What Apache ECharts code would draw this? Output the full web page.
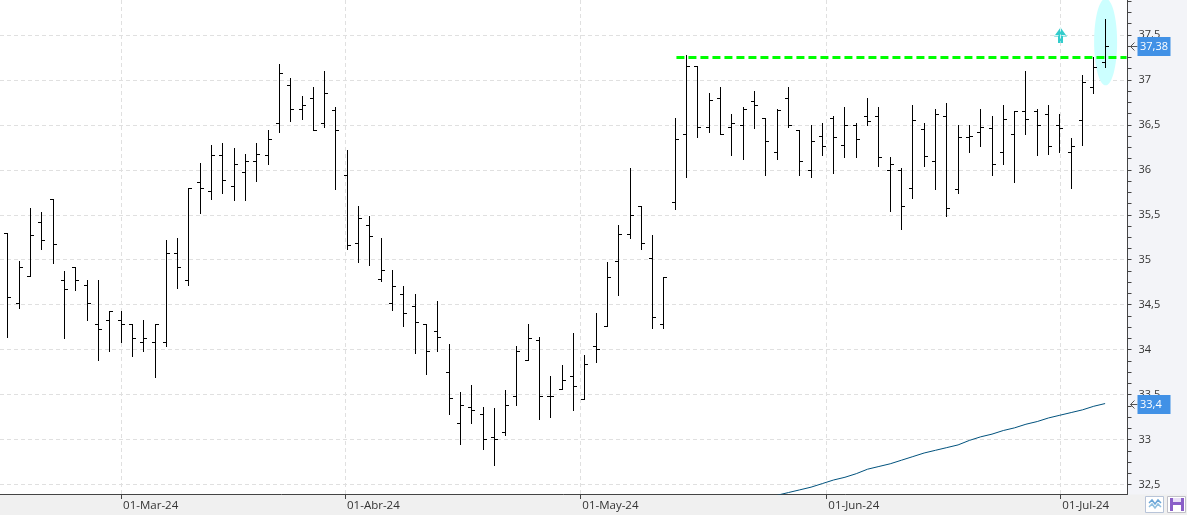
<!DOCTYPE html>
<html>
<head>
<meta charset="utf-8">
<style>
  html, body { margin: 0; padding: 0; background: #f3f4f8; }
  #chart { width: 1187px; height: 515px; }
</style>
<script src="https://cdn.jsdelivr.net/npm/echarts@6/dist/echarts.min.js"></script>
</head>
<body>
<div id="chart"></div>
<script>
// daily bars, index = trading session
const opens = [
  35.30, 34.52, 34.82, 35.42, 35.67, 34.77, 34.92, 34.72, 34.29, 34.33,
  34.33, 34.29, 34.09, 34.09, 34.09, 35.07, 34.77, 35.87, 35.76, 36.17,
  35.82, 35.98, 36.10, 36.17, 36.52, 36.94, 36.68, 36.80, 36.52, 36.66,
  35.94, 35.19, 35.39, 34.79, 34.52, 34.62, 34.49, 34.29, 34.21, 33.75,
  33.18, 33.36, 33.28, 33.03, 33.08, 33.48, 33.89, 34.11, 33.48, 33.56,
  33.71, 33.45, 34.04, 34.26, 34.99, 35.29, 35.60, 35.02, 34.29, 35.64,
  36.40, 37.15, 36.48, 36.80, 36.48, 36.50, 36.76, 36.58, 36.20, 36.80,
  36.44, 36.00, 36.38, 36.58, 36.28, 36.50, 36.60, 36.60, 36.00, 36.00,
  35.80, 36.45, 36.10, 36.60, 35.79, 36.37, 36.42, 36.47, 36.20, 36.40,
  36.65, 36.65, 36.62, 36.50, 36.20, 36.55, 36.92, 37.20
];
const highs = [
  35.30, 34.99, 35.57, 35.53, 35.67, 34.87, 34.92, 34.77, 34.77, 34.43,
  34.43, 34.29, 34.33, 34.29, 35.22, 35.24, 35.80, 36.08, 36.28, 36.30,
  36.24, 36.18, 36.30, 36.44, 37.18, 37.02, 36.82, 36.92, 37.10, 36.70,
  36.22, 35.60, 35.49, 35.24, 34.89, 34.71, 34.62, 34.29, 34.54, 34.06,
  33.53, 33.61, 33.36, 33.35, 33.55, 34.04, 34.29, 34.14, 33.71, 33.83,
  34.19, 33.94, 34.41, 34.97, 35.39, 36.02, 35.60, 35.27, 34.81, 36.58,
  37.28, 37.16, 36.86, 36.92, 36.62, 36.70, 36.88, 36.58, 36.68, 36.92,
  36.44, 36.50, 36.52, 36.60, 36.70, 36.52, 36.80, 36.70, 36.14, 36.02,
  36.72, 36.52, 36.68, 36.74, 36.50, 36.50, 36.68, 36.60, 36.72, 36.65,
  37.10, 36.68, 36.72, 36.62, 36.35, 37.06, 37.26, 37.68
];
const lows = [
  34.14, 34.46, 34.82, 35.12, 34.96, 34.13, 34.66, 34.33, 33.89, 33.99,
  34.09, 33.93, 33.99, 33.69, 34.04, 34.69, 34.72, 35.52, 35.68, 35.74,
  35.66, 35.66, 35.88, 36.07, 36.42, 36.54, 36.57, 36.44, 36.48, 35.79,
  35.12, 34.98, 34.94, 34.76, 34.44, 34.26, 33.96, 33.73, 33.98, 33.28,
  32.95, 33.18, 32.90, 32.72, 33.05, 33.38, 33.89, 33.23, 33.25, 33.56,
  33.33, 33.45, 33.86, 34.26, 34.61, 35.24, 35.12, 34.24, 34.24, 35.56,
  35.92, 36.37, 36.42, 36.40, 36.16, 36.12, 36.46, 35.94, 36.12, 36.48,
  35.94, 35.92, 36.16, 35.96, 36.14, 36.14, 36.50, 36.04, 35.54, 35.34,
  35.69, 36.04, 35.79, 35.49, 35.74, 36.20, 36.26, 35.94, 36.06, 35.87,
  36.40, 36.16, 36.18, 36.20, 35.80, 36.28, 36.85, 37.14
];
const closes = [
  34.59, 34.92, 35.27, 35.22, 35.17, 34.67, 34.77, 34.52, 34.23, 34.43,
  34.29, 34.13, 34.13, 34.29, 35.07, 34.92, 35.80, 35.80, 36.17, 35.89,
  36.07, 36.10, 36.18, 36.34, 37.08, 36.68, 36.72, 36.44, 36.86, 36.44,
  35.16, 35.46, 35.26, 34.89, 34.71, 34.41, 34.31, 33.99, 34.14, 33.46,
  33.38, 33.33, 33.01, 33.01, 33.38, 33.99, 34.13, 33.48, 33.48, 33.66,
  33.59, 33.84, 34.01, 34.81, 35.29, 35.50, 35.19, 34.36, 34.81, 36.34,
  37.16, 36.48, 36.78, 36.40, 36.52, 36.68, 36.72, 36.32, 36.66, 36.50,
  36.10, 36.32, 36.27, 36.37, 36.50, 36.34, 36.54, 36.14, 36.07, 35.60,
  36.55, 36.15, 36.62, 35.57, 36.37, 36.38, 36.48, 36.07, 36.57, 36.65,
  36.57, 36.50, 36.27, 36.47, 36.27, 36.98, 37.14, 37.38
];

// long moving average, first point is session 68
const maStart = 68;
const maValues = [
  32.38, 32.41, 32.44, 32.47, 32.51, 32.55, 32.58, 32.62, 32.67, 32.70,
  32.73, 32.77, 32.81, 32.85, 32.88, 32.91, 32.94, 32.99, 33.03, 33.06,
  33.10, 33.13, 33.17, 33.20, 33.24, 33.27, 33.30, 33.33, 33.37, 33.40
];

const monthTicks = [10, 29.8, 50.6, 72.35, 93.04];
const monthLabels = ['01-Mar-24', '01-Abr-24', '01-May-24', '01-Jun-24', '01-Jul-24'];
const priceTicks = [32.5, 33, 33.5, 34, 34.5, 35, 35.5, 36, 36.5, 37, 37.5];
const minorTicks = [];
for (let v = 32.5; v <= 37.875; v += 0.125) minorTicks.push(v);

const resistance = { from: 59.1, to: 98.9, value: 37.25 };
const signal = { x: 93, y: 37.5 };
const lastPrice = closes[closes.length - 1];
const lastMa = maValues[maValues.length - 1];

const chart = echarts.init(document.getElementById('chart'), null, { renderer: 'canvas' });

const priceFormat = v => String(v).replace('.', ',');
const font = '"Open Sans", "Noto Sans", sans-serif';

const renderBar = (params, api) => {
  const x = Math.floor(api.coord([api.value(0), 0])[0]) + 0.5;
  const y = i => Math.round(api.coord([0, api.value(i)])[1]) + 0.5;
  const style = { stroke: '#000', lineWidth: 1, fill: null };
  return {
    type: 'group',
    children: [
      { type: 'line', shape: { x1: x, y1: y(2) - 0.5, x2: x, y2: y(3) + 0.5 }, style },
      { type: 'line', shape: { x1: x - 3.5, y1: y(1), x2: x, y2: y(1) }, style },
      { type: 'line', shape: { x1: x, y1: y(4), x2: x + 3.5, y2: y(4) }, style }
    ]
  };
};

const renderArrow = (params, api) => {
  const c = api.coord([api.value(0), api.value(1)]);
  const x = Math.round(c[0]) + 0.5;
  const y = Math.round(c[1]) + 0.5;
  const faint = { stroke: '#d4f4f4', lineWidth: 1, lineDash: [4, 3], fill: null };
  return {
    type: 'group',
    children: [
      {
        type: 'polygon',
        shape: { points: [[x, y - 8], [x + 6.5, y + 1], [x + 2.5, y + 1], [x + 2.5, y + 7.5], [x - 2.5, y + 7.5], [x - 2.5, y + 1], [x - 6.5, y + 1]] },
        style: { fill: '#33cccc' }
      },
      { type: 'line', shape: { x1: x, y1: y - 8, x2: x, y2: y + 7 }, style: faint },
      { type: 'line', shape: { x1: x - 6, y1: y, x2: x + 6, y2: y }, style: faint }
    ]
  };
};

chart.setOption({
  animation: false,
  backgroundColor: 'transparent',
  grid: {
    show: true,
    left: 0,
    right: 59.5,
    top: 0,
    height: 494,
    backgroundColor: '#fff',
    borderWidth: 0,
    containLabel: false
  },
  xAxis: {
    type: 'value',
    min: -0.707,
    max: 98.98,
    axisLine: { show: true, onZero: false, lineStyle: { color: '#444', width: 1 } },
    axisTick: { show: true, customValues: monthTicks, length: 5, inside: false, lineStyle: { color: '#444' } },
    axisLabel: {
      show: true,
      customValues: monthTicks,
      formatter: v => monthLabels[monthTicks.indexOf(v)] || '',
      color: '#333',
      fontFamily: font,
      fontSize: 11.5,
      align: 'left',
      margin: 6,
      padding: [0, 0, 0, 2],
      showMinLabel: true,
      showMaxLabel: true,
      hideOverlap: false
    },
    splitLine: { show: true, lineStyle: { color: '#e0e0e0', type: [4, 3], width: 1 } }
  },
  yAxis: [
    {
      type: 'value',
      position: 'right',
      min: 32.394,
      max: 37.889,
      axisLine: { show: true, onZero: false, lineStyle: { color: '#444', width: 1 } },
      axisTick: { show: true, customValues: minorTicks, length: 4, lineStyle: { color: '#444' } },
      axisLabel: {
        show: true,
        customValues: priceTicks,
        formatter: priceFormat,
        color: '#333',
        fontFamily: font,
        fontSize: 11,
        margin: 11,
        padding: [4, 0, 0, 0],
        showMinLabel: true,
        showMaxLabel: true
      },
      splitLine: { show: false }
    },
    {
      // second axis only for the horizontal grid lines at the labelled prices
      type: 'value',
      position: 'left',
      min: 32.394,
      max: 37.889,
      axisLine: { show: false },
      axisTick: { show: false, customValues: priceTicks },
      axisLabel: { show: false },
      splitLine: { show: true, lineStyle: { color: '#e0e0e0', type: [4, 3], width: 1 } }
    }
  ],
  series: [
    {
      // highlight ellipse behind the last bar
      type: 'custom',
      z: 1,
      silent: true,
      clip: false,
      data: [[97, 37.905, 36.94]],
      renderItem: (params, api) => {
        const top = api.coord([api.value(0), api.value(1)]);
        const bottom = api.coord([api.value(0), api.value(2)]);
        return {
          type: 'ellipse',
          shape: { cx: top[0] + 0.5, cy: (top[1] + bottom[1]) / 2, rx: 11.5, ry: (bottom[1] - top[1]) / 2 },
          style: { fill: '#ccffff' }
        };
      }
    },
    {
      type: 'custom',
      z: 3,
      silent: true,
      encode: { x: 0, y: [1, 2, 3, 4] },
      data: opens.map((o, i) => [i, o, highs[i], lows[i], closes[i]]),
      renderItem: renderBar
    },
    {
      type: 'line',
      z: 3,
      silent: true,
      showSymbol: false,
      lineStyle: { color: '#00527d', width: 1 },
      data: maValues.map((v, i) => [maStart + i, v])
    },
    {
      // resistance level
      type: 'line',
      z: 4,
      silent: true,
      showSymbol: false,
      lineStyle: { color: '#00ff00', width: 3, type: [8, 4] },
      data: [[resistance.from, resistance.value], [resistance.to, resistance.value]]
    },
    {
      // buy signal arrow
      type: 'custom',
      z: 4,
      silent: true,
      data: [[signal.x, signal.y]],
      renderItem: renderArrow
    },
    {
      // last value tags on the price axis
      type: 'custom',
      z: 6,
      silent: true,
      clip: false,
      data: [[lastPrice], [lastMa]],
      renderItem: (params, api) => {
        const y = Math.round(api.coord([0, api.value(0)])[1]);
        const axisX = params.coordSys.x + params.coordSys.width;
        return {
          type: 'group',
          children: [
            { type: 'polyline', shape: { points: [[axisX + 7, y - 3.5], [axisX + 3, y + 0.5], [axisX + 7, y + 4.5]] }, style: { stroke: '#555', fill: null, lineWidth: 1 } },
            { type: 'line', shape: { x1: axisX + 3, y1: y + 0.5, x2: axisX + 10, y2: y + 0.5 }, style: { stroke: '#555', lineWidth: 1 } },
            { type: 'rect', shape: { x: axisX + 10, y: y - 9, width: 33, height: 19 }, style: { fill: '#4191e6' } },
            { type: 'text', x: axisX + 12.5, y: y + 1, style: { text: priceFormat(api.value(0)), fill: '#fff', font: '11px ' + font, verticalAlign: 'middle' } }
          ]
        };
      }
    }
  ],
  graphic: [
    // bottom strip
    { type: 'rect', z: -1, shape: { x: 0, y: 494.5, width: 1187, height: 21 }, style: { fill: '#f0f0f0' } },
    // toolbar buttons
    {
      type: 'group',
      z: 10,
      children: [
        { type: 'rect', shape: { x: 1145.5, y: 496.5, width: 18, height: 16 }, style: { fill: '#fff', stroke: '#b8c4d8' } },
        { type: 'polyline', shape: { points: [[1149, 503], [1152, 500], [1155, 504], [1158, 500], [1161, 503]] }, style: { stroke: '#6aa6d8', fill: null, lineWidth: 1.5 } },
        { type: 'polyline', shape: { points: [[1149, 507], [1152, 504], [1155, 508], [1158, 504], [1161, 507]] }, style: { stroke: '#8fbfe0', fill: null, lineWidth: 1.5 } },
        { type: 'rect', shape: { x: 1167.5, y: 496.5, width: 18, height: 16 }, style: { fill: '#fff', stroke: '#c0c0c8' } },
        { type: 'rect', shape: { x: 1170, y: 498, width: 14, height: 13 }, style: { fill: '#8a5fc8' } },
        { type: 'rect', shape: { x: 1173, y: 498, width: 8, height: 4 }, style: { fill: '#e8e0f6' } },
        { type: 'rect', shape: { x: 1173, y: 505, width: 8, height: 6 }, style: { fill: '#fff' } }
      ]
    }
  ]
});
</script>
</body>
</html>
